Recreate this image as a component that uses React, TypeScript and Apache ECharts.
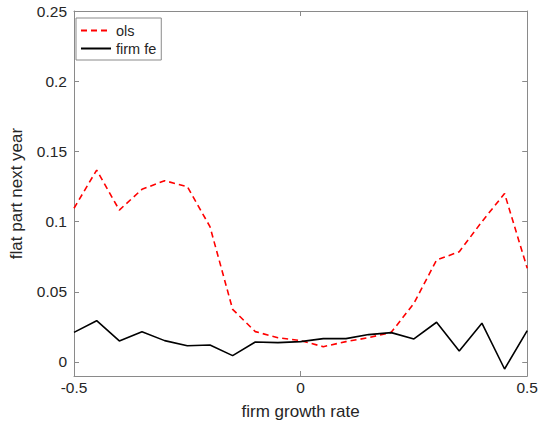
import { useEffect, useRef } from "react";
import * as echarts from "echarts";

const growthRates = [
  -0.5, -0.45, -0.4, -0.35, -0.3, -0.25, -0.2, -0.15, -0.1, -0.05, 0,
  0.05, 0.1, 0.15, 0.2, 0.25, 0.3, 0.35, 0.4, 0.45, 0.5,
];
const olsValues = [
  0.1095, 0.1367, 0.1082, 0.123, 0.1291, 0.1249, 0.0964, 0.0375, 0.0216, 0.0173, 0.0152,
  0.0109, 0.0145, 0.0173, 0.0211, 0.0418, 0.0726, 0.0785, 0.0999, 0.12, 0.0667,
];
const firmFeValues = [
  0.0211, 0.0294, 0.015, 0.0216, 0.0152, 0.0116, 0.0121, 0.0045, 0.0142, 0.0138, 0.0145,
  0.0166, 0.0166, 0.0195, 0.0209, 0.0164, 0.0283, 0.0078, 0.0276, -0.005, 0.0223,
];
const yTicks = [0, 0.05, 0.1, 0.15, 0.2, 0.25];

const FONT = "'Liberation Sans', Arial, sans-serif";
const BOX = "#8a8a8a";
const TEXT = "#262626";

function fmt(v: number) {
  return String(Math.round(v * 100) / 100);
}

export default function App() {
  const nodeRef = useRef<HTMLDivElement | null>(null);

  useEffect(() => {
    if (!nodeRef.current) return;
    const chart = echarts.init(nodeRef.current, undefined, { renderer: "svg" });
    const axisLine = { show: true, onZero: false, lineStyle: { color: BOX, width: 1 } };
    const tick = { show: true, inside: true, length: 5, lineStyle: { color: BOX } };
    chart.setOption({
      animation: false,
      textStyle: { fontFamily: FONT },
      grid: { left: 68, right: 12, top: 11, bottom: 51, containLabel: false },
      legend: {
        orient: "vertical",
        left: 76,
        top: 18,
        padding: [5, 5, 4, 4],
        itemGap: 3,
        itemWidth: 30,
        itemHeight: 14,
        borderColor: BOX,
        borderWidth: 1,
        backgroundColor: "#fff",
        itemStyle: { opacity: 0 },
        textStyle: { fontSize: 14.5, color: TEXT, fontFamily: FONT },
        data: ["ols", "firm fe"],
      },
      xAxis: [
        {
          type: "value",
          min: -0.5,
          max: 0.5,
          interval: 0.5,
          name: "firm growth rate",
          nameLocation: "middle",
          nameGap: 27,
          nameTextStyle: { fontSize: 17, color: TEXT, fontFamily: FONT },
          axisLine,
          axisTick: tick,
          axisLabel: { fontSize: 15.5, color: TEXT, margin: 3, formatter: fmt },
          splitLine: { show: false },
        },
        {
          type: "value",
          position: "top",
          min: -0.5,
          max: 0.5,
          interval: 0.5,
          axisLine,
          axisTick: tick,
          axisLabel: { show: false },
          splitLine: { show: false },
        },
      ],
      yAxis: [
        {
          type: "value",
          min: -0.01,
          max: 0.25,
          name: "flat part next year",
          nameLocation: "middle",
          nameGap: 49,
          nameTextStyle: { fontSize: 17, color: TEXT, fontFamily: FONT },
          axisLine,
          axisTick: { ...tick, customValues: yTicks },
          axisLabel: { fontSize: 15.5, color: TEXT, margin: 7, customValues: yTicks, formatter: fmt },
          splitLine: { show: false },
        },
        {
          type: "value",
          position: "right",
          min: -0.01,
          max: 0.25,
          axisLine,
          axisTick: { ...tick, customValues: yTicks },
          axisLabel: { show: false },
          splitLine: { show: false },
        },
      ],
      series: [
        {
          name: "ols",
          type: "line",
          symbol: "none",
          color: "#ff0000",
          lineStyle: { color: "#ff0000", width: 1.6, type: [6, 4] },
          data: growthRates.map((x, i) => [x, olsValues[i]]),
        },
        {
          name: "firm fe",
          type: "line",
          symbol: "none",
          color: "#000000",
          lineStyle: { color: "#000000", width: 1.6 },
          data: growthRates.map((x, i) => [x, firmFeValues[i]]),
        },
      ],
    });
    return () => chart.dispose();
  }, []);

  return (
    <div
      ref={nodeRef}
      style={{ position: "fixed", left: 0, top: 0, width: 541, height: 427, background: "#fff" }}
    />
  );
}
